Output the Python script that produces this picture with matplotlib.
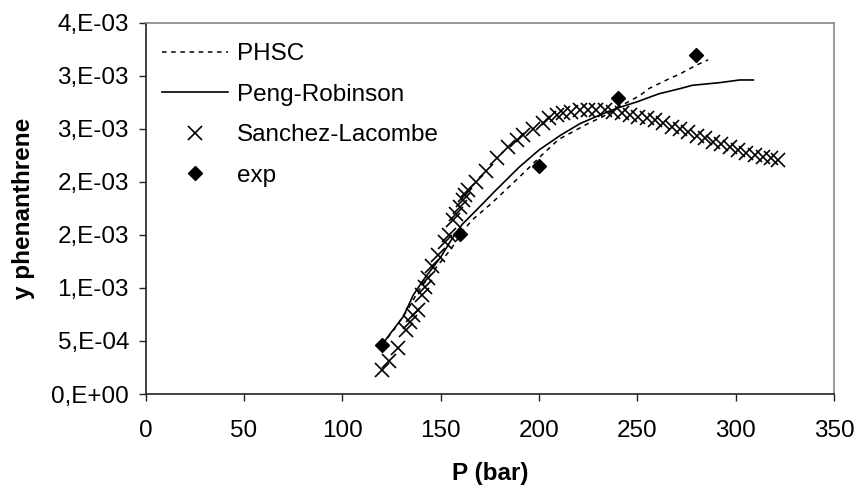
import matplotlib
matplotlib.use("Agg")
import matplotlib.pyplot as plt
from matplotlib.ticker import MultipleLocator, FuncFormatter
from decimal import Decimal, ROUND_HALF_UP
import numpy as np

# values (y in units of 1e-3)
exp_p = [120, 160, 200, 240, 280]
exp_y = [0.46, 1.51, 2.15, 2.79, 3.20]

phsc_p = [120, 126, 133, 139, 148, 155, 161, 166, 176, 184, 192, 203, 210, 219, 224,
          233, 242, 251, 256, 266, 272, 280, 286]
phsc_y = [0.46, 0.60, 0.79, 0.98, 1.20, 1.36, 1.53, 1.64, 1.80, 1.94, 2.08, 2.28, 2.40,
          2.49, 2.54, 2.62, 2.72, 2.81, 2.88, 2.97, 3.02, 3.10, 3.15]

pr_p = [120, 124, 131, 136, 141, 150, 156, 161, 168, 178, 190, 200, 211, 221, 231, 239,
        250, 261, 272, 278, 292, 302, 309]
pr_y = [0.46, 0.56, 0.73, 0.93, 1.07, 1.29, 1.47, 1.60, 1.73, 1.92, 2.14, 2.30, 2.44,
        2.55, 2.63, 2.69, 2.755, 2.83, 2.88, 2.91, 2.935, 2.96, 2.96]

sl_p = [120, 123.5, 128.5, 132.5, 134.5, 136, 138.5, 140.5, 142, 143.7, 145.5, 148.8,
        152, 154, 156.4, 158, 160, 161.5, 162.5, 164, 168, 173, 178.4, 184.3, 188.6,
        192, 197, 202, 205, 209, 212.3, 216.5, 220.7, 225, 229.2, 233.5, 237.7, 242,
        246.2, 250.4, 254.7, 258.9, 263.1, 267.4, 271.6, 275.8, 280.1, 284.3, 288.5,
        292.8, 297, 301.2, 305.5, 309.7, 313.9, 318.2, 321.6]
sl_y = [0.23, 0.31, 0.43, 0.60, 0.68, 0.745, 0.79, 0.93, 1.01, 1.09, 1.21, 1.31, 1.435,
        1.50, 1.64, 1.70, 1.765, 1.83, 1.875, 1.92, 2.00, 2.10, 2.22, 2.33, 2.39, 2.44,
        2.50, 2.55, 2.60, 2.63, 2.646, 2.661, 2.677, 2.677, 2.677, 2.677, 2.661, 2.646,
        2.63, 2.614, 2.598, 2.582, 2.551, 2.519, 2.494, 2.466, 2.434, 2.41, 2.378,
        2.356, 2.331, 2.30, 2.274, 2.252, 2.237, 2.22, 2.205]

scale = 1e-3

plt.rcParams["font.family"] = ["Liberation Sans", "DejaVu Sans"]
plt.rcParams["font.size"] = 17.5

fig = plt.figure(figsize=(8.58, 4.88), dpi=100)
ax = fig.add_axes([0.1698, 0.1926, 0.8022, 0.7609])

ax.plot(phsc_p, np.array(phsc_y) * scale, color="black", lw=1.1, linestyle=(0, (3, 3)),
        label="PHSC")
ax.plot(pr_p, np.array(pr_y) * scale, color="black", lw=1.2, label="Peng-Robinson")
ax.plot(sl_p, np.array(sl_y) * scale, linestyle="none", marker="x", color="black",
        markersize=10, markeredgewidth=1.2, label="Sanchez-Lacombe")
ax.plot(exp_p, np.array(exp_y) * scale, linestyle="none", marker="D", color="black",
        markersize=7, label="exp")

ax.set_xlim(0, 350)
ax.set_ylim(0, 3.5e-3)
ax.xaxis.set_major_locator(MultipleLocator(50))
ax.yaxis.set_major_locator(MultipleLocator(5e-4))


def excel_sci(v, pos):
    # Excel "0,E+00" style: no decimals, half rounded up
    v = float(v)
    if abs(v) < 1e-12:
        return "0,E+00"
    e = int(np.floor(np.log10(abs(v)) + 1e-9))
    m = Decimal(str(round(v / 10 ** e, 9))).quantize(Decimal("1"), rounding=ROUND_HALF_UP)
    if m >= 10:
        m = m / 10
        e += 1
    return f"{int(m)},E{e:+03d}"


ax.yaxis.set_major_formatter(FuncFormatter(excel_sci))

ax.tick_params(direction="out", length=5, width=1, colors="#222222", labelcolor="black")
ax.tick_params(axis="x", pad=14)
ax.tick_params(axis="y", pad=7)
ax.spines["left"].set_color("#222222")
ax.spines["bottom"].set_color("#222222")
ax.spines["top"].set_color("#888888")
ax.spines["right"].set_color("#888888")
for s in ax.spines.values():
    s.set_linewidth(1.2)

ax.set_xlabel("P (bar)", fontweight="bold", labelpad=14)
ax.set_ylabel("y phenanthrene", fontweight="bold", labelpad=12)

ax.legend(loc="upper left", bbox_to_anchor=(0.0237, 0.945), frameon=False,
          borderpad=0, borderaxespad=0, handlelength=2.7, handletextpad=0.38,
          labelspacing=0.76)

fig.savefig("out.png", dpi=100)
